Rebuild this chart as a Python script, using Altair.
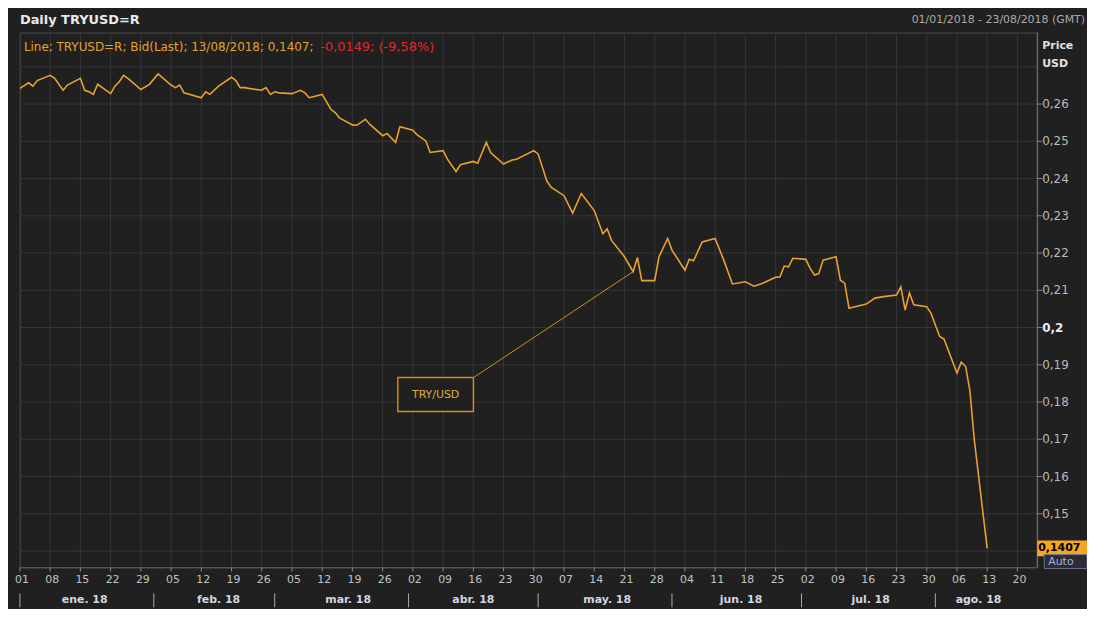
import altair as alt
import pandas as pd

# ---------------- data ----------------
dates = [
    "2018/01/01", "2018/01/03", "2018/01/04", "2018/01/05", "2018/01/08", "2018/01/09",
    "2018/01/11", "2018/01/12", "2018/01/15", "2018/01/16", "2018/01/17", "2018/01/18",
    "2018/01/19", "2018/01/22", "2018/01/23", "2018/01/24", "2018/01/25", "2018/01/26",
    "2018/01/29", "2018/01/31", "2018/02/02", "2018/02/05", "2018/02/06", "2018/02/07",
    "2018/02/08", "2018/02/12", "2018/02/13", "2018/02/14", "2018/02/16", "2018/02/19",
    "2018/02/20", "2018/02/21", "2018/02/22", "2018/02/23", "2018/02/26", "2018/02/27",
    "2018/02/28", "2018/03/01", "2018/03/02", "2018/03/05", "2018/03/07", "2018/03/08",
    "2018/03/09", "2018/03/12", "2018/03/14", "2018/03/15", "2018/03/16", "2018/03/19",
    "2018/03/20", "2018/03/22", "2018/03/23", "2018/03/26", "2018/03/27", "2018/03/29",
    "2018/03/30", "2018/04/02", "2018/04/03", "2018/04/05", "2018/04/06", "2018/04/09",
    "2018/04/10", "2018/04/12", "2018/04/13", "2018/04/16", "2018/04/17", "2018/04/19",
    "2018/04/20", "2018/04/23", "2018/04/25", "2018/04/26", "2018/04/30", "2018/05/01",
    "2018/05/02", "2018/05/03", "2018/05/04", "2018/05/07", "2018/05/09", "2018/05/11",
    "2018/05/14", "2018/05/16", "2018/05/17", "2018/05/18", "2018/05/21", "2018/05/23",
    "2018/05/24", "2018/05/25", "2018/05/28", "2018/05/29", "2018/05/31", "2018/06/01",
    "2018/06/04", "2018/06/05", "2018/06/06", "2018/06/08", "2018/06/11", "2018/06/13",
    "2018/06/15", "2018/06/18", "2018/06/20", "2018/06/22", "2018/06/25", "2018/06/26",
    "2018/06/27", "2018/06/28", "2018/06/29", "2018/07/02", "2018/07/03", "2018/07/04",
    "2018/07/05", "2018/07/06", "2018/07/09", "2018/07/10", "2018/07/11", "2018/07/12",
    "2018/07/16", "2018/07/18", "2018/07/20", "2018/07/23", "2018/07/24", "2018/07/25",
    "2018/07/26", "2018/07/27", "2018/07/30", "2018/07/31", "2018/08/01", "2018/08/02",
    "2018/08/03", "2018/08/06", "2018/08/07", "2018/08/08", "2018/08/09", "2018/08/10",
    "2018/08/13",
]
values = [
    0.2642, 0.2657, 0.2648, 0.2663, 0.2677, 0.2670,
    0.2637, 0.2651, 0.2669, 0.2637, 0.2633, 0.2626,
    0.2653, 0.2628, 0.2648, 0.2660, 0.2677, 0.2669,
    0.2639, 0.2653, 0.2681, 0.2651, 0.2644, 0.2651,
    0.2630, 0.2617, 0.2633, 0.2626, 0.2648, 0.2672,
    0.2663, 0.2644, 0.2644, 0.2642, 0.2637, 0.2644,
    0.2626, 0.2633, 0.2630, 0.2628, 0.2637, 0.2630,
    0.2617, 0.2626, 0.2586, 0.2577, 0.2563, 0.2544,
    0.2543, 0.2559, 0.2546, 0.2515, 0.2521, 0.2497,
    0.2539, 0.2530, 0.2517, 0.2501, 0.2470, 0.2475,
    0.2452, 0.2419, 0.2437, 0.2446, 0.2441, 0.2497,
    0.2470, 0.2439, 0.2450, 0.2452, 0.2475, 0.2466,
    0.2430, 0.2394, 0.2377, 0.2354, 0.2307, 0.2360,
    0.2314, 0.2252, 0.2265, 0.2234, 0.2190, 0.2150,
    0.2188, 0.2126, 0.2126, 0.2190, 0.2239, 0.2208,
    0.2154, 0.2183, 0.2179, 0.2230, 0.2239, 0.2181,
    0.2117, 0.2123, 0.2111, 0.2119, 0.2135, 0.2136,
    0.2165, 0.2163, 0.2186, 0.2183, 0.2159, 0.2141,
    0.2145, 0.2181, 0.2190, 0.2127, 0.2119, 0.2052,
    0.2063, 0.2079, 0.2083, 0.2087, 0.2109, 0.2047,
    0.2093, 0.2061, 0.2056, 0.2038, 0.2007, 0.1976,
    0.1969, 0.1878, 0.1907, 0.1896, 0.1830, 0.1700,
    0.1407,
]

week_ticks = [
    "2018/01/01", "2018/01/08", "2018/01/15", "2018/01/22", "2018/01/29",
    "2018/02/05", "2018/02/12", "2018/02/19", "2018/02/26",
    "2018/03/05", "2018/03/12", "2018/03/19", "2018/03/26",
    "2018/04/02", "2018/04/09", "2018/04/16", "2018/04/23", "2018/04/30",
    "2018/05/07", "2018/05/14", "2018/05/21", "2018/05/28",
    "2018/06/04", "2018/06/11", "2018/06/18", "2018/06/25",
    "2018/07/02", "2018/07/09", "2018/07/16", "2018/07/23", "2018/07/30",
    "2018/08/06", "2018/08/13", "2018/08/20",
]
y_ticks = [0.15, 0.16, 0.17, 0.18, 0.19, 0.20, 0.21, 0.22, 0.23, 0.24, 0.25, 0.26]
y_tick_labels = ["0,15", "0,16", "0,17", "0,18", "0,19", "0,2",
                 "0,21", "0,22", "0,23", "0,24", "0,25", "0,26"]
highlight_label = "0,2"
grid_values = [0.14, 0.15, 0.16, 0.17, 0.18, 0.19, 0.20, 0.21, 0.22, 0.23, 0.24, 0.25, 0.26, 0.27]
month_starts = ["2018/01/01", "2018/02/01", "2018/03/01", "2018/04/01",
                "2018/05/01", "2018/06/01", "2018/07/01", "2018/08/01"]
month_labels = ["ene. 18", "feb. 18", "mar. 18", "abr. 18",
                "may. 18", "jun. 18", "jul. 18", "ago. 18"]
month_centers = ["2018/01/16", "2018/02/16", "2018/03/18", "2018/04/16",
                 "2018/05/17", "2018/06/17", "2018/07/17", "2018/08/11"]

title_text = "Daily TRYUSD=R"
range_text = "01/01/2018 - 23/08/2018 (GMT)"
legend_text = "Line; TRYUSD=R; Bid(Last); 13/08/2018; 0,1407; "
legend_change = "-0,0149; (-9,58%)"
annotation_label = "TRY/USD"
annotation_date = "2018/05/23"

# ---------------- styling ----------------
W, H = 1023, 538
BG = "#202020"
GRID = "#363636"
ORANGE = "#e8a030"
FONT = "DejaVu Sans"

df = pd.DataFrame({"date": dates, "value": values})
one = pd.DataFrame({"k": [0]})

x_scale = alt.Scale(domain=[alt.DateTime(year=2018, month=1, date=1),
                            alt.DateTime(year=2018, month=8, date=24, hours=14, minutes=24)])
y_scale = alt.Scale(domain=[0.13556, 0.2792], nice=False, zero=False)


def X(field):
    return alt.X(field, scale=x_scale, axis=None)


def Y(field):
    return alt.Y(field, scale=y_scale, axis=None)


# ---- hand-built axes (grid, ticks, labels) from the tick lists ----
week_df = pd.DataFrame({"d": week_ticks, "lbl": [s.split("/")[2] for s in week_ticks]})
ytick_df = pd.DataFrame({"v": y_ticks, "lbl": y_tick_labels})
grid_df = pd.DataFrame({"g": grid_values})

vgrid = alt.Chart(week_df).mark_rule(color=GRID, strokeWidth=1).encode(x=X("d:T"))
hgrid = alt.Chart(grid_df).mark_rule(color=GRID, strokeWidth=1).encode(y=Y("g:Q"))
xticks = alt.Chart(week_df).mark_rule(color="#888888", strokeWidth=1).encode(
    x=X("d:T"), y=alt.value(H), y2=alt.value(H + 4))
xlabels = alt.Chart(week_df).mark_text(
    color="#c0c0c0", fontSize=11, font=FONT, align="center", baseline="middle", dx=2).encode(
    x=X("d:T"), y=alt.value(H + 13), text="lbl:N")
yticks = alt.Chart(ytick_df).mark_rule(color="#888888", strokeWidth=1).encode(
    y=Y("v:Q"), x=alt.value(W), x2=alt.value(W + 5))
ylabels = alt.Chart(ytick_df).transform_filter(alt.datum.lbl != highlight_label).mark_text(
    color="#bbbbbb", fontSize=12, font=FONT, align="left", baseline="middle").encode(
    y=Y("v:Q"), x=alt.value(W + 5), text="lbl:N")
ylabels_hl = alt.Chart(ytick_df).transform_filter(alt.datum.lbl == highlight_label).mark_text(
    fontSize=12, font=FONT, fontWeight="bold", color="#e6eefa", align="left", baseline="middle").encode(
    y=Y("v:Q"), x=alt.value(W + 5), text="lbl:N")
right_domain = alt.Chart(one).mark_rule(color="#777777", strokeWidth=1).encode(
    x=alt.value(W), y=alt.value(0), y2=alt.value(H))
bottom_domain = alt.Chart(one).mark_rule(color="#5a5a5a", strokeWidth=1).encode(
    y=alt.value(H), x=alt.value(0), x2=alt.value(W))

# ---- the series ----
line = alt.Chart(df).mark_line(color=ORANGE, strokeWidth=1.6).encode(
    x=X("date:T"), y=Y("value:Q"))

# annotation: connector, box and label
anno_df = df[df["date"] == annotation_date]
connector = alt.Chart(anno_df).mark_rule(color="#c8902a", strokeWidth=1).encode(
    x=X("date:T"), y=Y("value:Q"), x2=alt.value(456), y2=alt.value(347))
anno_box = alt.Chart(one).mark_rect(fill=BG, stroke="#d08a20", strokeWidth=1.5).encode(
    x=alt.value(380), x2=alt.value(456), y=alt.value(347), y2=alt.value(381))
anno_text = alt.Chart(pd.DataFrame({"t": [annotation_label]})).mark_text(
    color="#e0a840", fontSize=11, font=FONT, align="center", baseline="middle").encode(
    x=alt.value(418), y=alt.value(364), text="t:N")

# last value tag on the right axis
last_df = df.tail(1)
tag_box = alt.Chart(last_df).transform_calculate(
    lo="datum.value - 0.0021", hi="datum.value + 0.0021").mark_rect(color="#f5a623").encode(
    x=alt.value(W), x2=alt.value(W + 54), y=Y("lo:Q"), y2="hi:Q")
tag_text = alt.Chart(last_df).transform_calculate(
    lbl="replace(format(datum.value, '.4f'), '.', ',')").mark_text(
    color="#000000", fontWeight="bold", fontSize=11, font=FONT, align="left", baseline="middle").encode(
    x=alt.value(W + 1), y=Y("value:Q"), text="lbl:N")
auto_box = alt.Chart(one).mark_rect(fill="#2c2c34", stroke="#6a7090", strokeWidth=1).encode(
    x=alt.value(W + 7), x2=alt.value(W + 50), y=alt.value(H - 13), y2=alt.value(H + 1))
auto_text = alt.Chart(pd.DataFrame({"t": ["Auto"]})).mark_text(
    color="#a8b0d8", fontSize=11, font=FONT, align="left", baseline="middle").encode(
    x=alt.value(W + 11), y=alt.value(H - 6), text="t:N")

# month labels and separators below the day axis
month_df = pd.DataFrame({"d": month_centers, "m": month_labels})
month_text = alt.Chart(month_df).mark_text(
    color="#d0d6e0", fontWeight="bold", fontSize=11, font=FONT, align="center", baseline="middle").encode(
    x=X("d:T"), y=alt.value(H + 33), text="m:N")
sep_df = pd.DataFrame({"d": month_starts})
seps = alt.Chart(sep_df).mark_rule(color="#aaaaaa", strokeWidth=1).encode(
    x=X("d:T"), y=alt.value(H + 26), y2=alt.value(H + 40))

# header texts
title = alt.Chart(pd.DataFrame({"t": [title_text]})).mark_text(
    color="#e8e8e8", fontWeight="bold", fontSize=13, font=FONT, align="left", baseline="middle").encode(
    x=alt.value(0), y=alt.value(-13), text="t:N")
range_lbl = alt.Chart(pd.DataFrame({"t": [range_text]})).mark_text(
    color="#aaaaaa", fontSize=11, font=FONT, align="right", baseline="middle").encode(
    x=alt.value(W + 48), y=alt.value(-13), text="t:N")
legend1 = alt.Chart(pd.DataFrame({"t": [legend_text]})).mark_text(
    color=ORANGE, fontSize=12, font=FONT, align="left", baseline="middle").encode(
    x=alt.value(4), y=alt.value(15), text="t:N")
legend2 = alt.Chart(pd.DataFrame({"t": [legend_change]})).mark_text(
    color="#e02828", fontSize=13, font=FONT, align="left", baseline="middle").encode(
    x=alt.value(302), y=alt.value(15), text="t:N")
price_lbl = alt.Chart(pd.DataFrame({"t": ["Price"]})).mark_text(
    color="#e0e0e0", fontWeight="bold", fontSize=11, font=FONT, align="left", baseline="middle").encode(
    x=alt.value(W + 5), y=alt.value(14), text="t:N")
usd_lbl = alt.Chart(pd.DataFrame({"t": ["USD"]})).mark_text(
    color="#e0e0e0", fontWeight="bold", fontSize=11, font=FONT, align="left", baseline="middle").encode(
    x=alt.value(W + 5), y=alt.value(32), text="t:N")

chart = alt.layer(
    vgrid, hgrid, right_domain, bottom_domain, xticks, xlabels, yticks,
    ylabels, ylabels_hl,
    line, connector, anno_box, anno_text, tag_box, tag_text, auto_box, auto_text,
    month_text, seps, title, range_lbl, legend1, legend2, price_lbl, usd_lbl,
).properties(
    width=W, height=H, background=BG,
    autosize=alt.AutoSizeParams(type="none"),
    padding={"left": 12, "top": 23, "right": 50, "bottom": 40},
).configure(font=FONT).configure_view(stroke="#4a4a4a")

chart.save("out.html", embed_options={"renderer": "svg", "actions": False})
